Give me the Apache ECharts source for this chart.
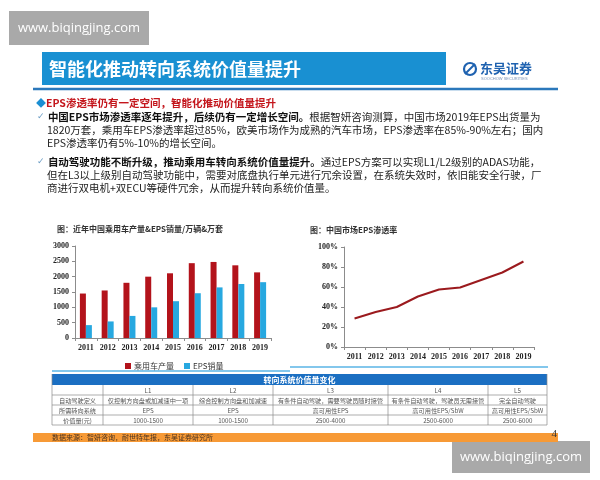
<!DOCTYPE html>
<html><head><meta charset="utf-8">
<script src="https://cdn.jsdelivr.net/npm/echarts@6/dist/echarts.min.js"></script>
<style>html,body{margin:0;padding:0;background:#fff}#c{width:600px;height:480px}</style>
</head><body><div id="c"></div>
<script>
// ---- data ----
const years = ['2011','2012','2013','2014','2015','2016','2017','2018','2019'];
const carProduction = [1450, 1550, 1800, 2000, 2110, 2440, 2480, 2370, 2140];
const epsSales = [420, 540, 720, 1000, 1200, 1460, 1650, 1760, 1820];
const epsPenetration = [28.5, 35, 40, 50.5, 57.5, 59.5, 67, 74.5, 85.5];
const seriesNames = ['乘用车产量', 'EPS销量'];
const tableTitle = '转向系统价值量变化';
const tableHeader = ['', 'L1', 'L2', 'L3', 'L4', 'L5'];
const tableRows = [
  ['自动驾驶定义', '仅控制方向盘或加减速中一项', '综合控制方向盘和加减速', '有条件自动驾驶，需要驾驶员随时接管', '有条件自动驾驶，驾驶员无需接管', '完全自动驾驶'],
  ['所需转向系统', 'EPS', 'EPS', '高可用性EPS', '高可用性EPS/SbW', '高可用性EPS/SbW'],
  ['价值量(元)', '1000-1500', '1000-1500', '2500-4000', '2500-6000', '2500-6000']
];

// ---- layout helpers ----
const CJK = '"Noto Sans CJK SC","Noto Sans",sans-serif';
const SERIF = '"Liberation Serif","Times New Roman",serif';
const g = [];
function rect(x, y, w, h, fill, extra) {
  g.push(Object.assign({type:'rect', shape:{x, y, width:w, height:h}, style:{fill}, silent:true}, extra||{}));
}
function line(x1, y1, x2, y2, stroke, lw) {
  g.push({type:'line', shape:{x1, y1, x2, y2}, style:{stroke, lineWidth:lw}, silent:true});
}
function text(x, y, t, font, fill, align, extra) {
  g.push(Object.assign({type:'text', x, y, style:{text:t, font, fill, textAlign:align||'left', textVerticalAlign:'middle'}, silent:true}, extra||{}));
}
function rich(x, y, t, richStyles) {
  g.push({type:'text', x, y, silent:true, style:{text:t, textVerticalAlign:'middle', rich:richStyles}});
}

// watermarks
rect(9, 11, 140, 34, '#a9a9a9');
text(79, 28, 'www.biqingjing.com', '13px "Open Sans", sans-serif', '#fff', 'center');
rect(452, 441, 138, 32, '#a9a9a9');
text(521, 457, 'www.biqingjing.com', '13px "Open Sans", sans-serif', '#fff', 'center');

// header
rect(42, 52, 404, 33, '#1990d2');
text(49, 69, '智能化推动转向系统价值量提升', 'bold 18px ' + CJK, '#fff');
line(33, 89, 558, 89, '#2b78bb', 2.5);
// logo
g.push({type:'circle', shape:{cx:470, cy:69, r:6}, style:{fill:'none', stroke:'#1f62b0', lineWidth:2.2}, silent:true});
line(465, 74, 475, 64, '#1f62b0', 2);
text(480, 68, '东吴证券', 'bold 13px ' + CJK, '#1f62b0');
text(481, 79, 'SOOCHOW SECURITIES', '4px sans-serif', '#7a93b8');

// body text
const FS = 10.5;
const base = {font: FS + 'px ' + CJK, fill:'#222'};
const bold = {font: 'bold ' + FS + 'px ' + CJK, fill:'#111'};
const red = {font: 'bold ' + FS + 'px ' + CJK, fill:'#c4161c'};
const dia = {font: '10px ' + CJK, fill:'#1a8fd3'};
const chk = {font: '9px "DejaVu Sans", sans-serif', fill:'#6a9cc4'};
rich(36, 103, '{d|◆}{r|EPS渗透率仍有一定空间，智能化推动价值量提升}', {d:dia, r:red});
rich(37, 117, '{c|✓} {b|中国EPS市场渗透率逐年提升，后续仍有一定增长空间。}{n|根据智妍咨询测算，中国市场2019年EPS出货量为}', {c:chk, b:bold, n:base});
rich(47, 130, '{n|1820万套，乘用车EPS渗透率超过85%，欧美市场作为成熟的汽车市场，EPS渗透率在85%-90%左右；国内}', {n:base});
rich(47, 143, '{n|EPS渗透率仍有5%-10%的增长空间。}', {n:base});
rich(37, 162, '{c|✓} {b|自动驾驶功能不断升级，推动乘用车转向系统价值量提升。}{n|通过EPS方案可以实现L1/L2级别的ADAS功能，}', {c:chk, b:bold, n:base});
rich(47, 175, '{n|但在L3以上级别自动驾驶功能中，需要对底盘执行单元进行冗余设置，在系统失效时，依旧能安全行驶，厂}', {n:base});
rich(47, 188, '{n|商进行双电机+双ECU等硬件冗余，从而提升转向系统价值量。}', {n:base});

// chart titles
text(57, 229, '图：近年中国乘用车产量&EPS销量/万辆&万套', 'bold 8px ' + CJK, '#333');
text(310, 230, '图：中国市场EPS渗透率', 'bold 8px ' + CJK, '#333');
// underlines
line(52, 371, 290, 371, '#5ab4e6', 1.5);
line(290, 367, 548, 367, '#5ab4e6', 1.5);

// table
const colX = [52, 103, 193, 273, 388, 488, 547];
const rowY = [374, 385, 395, 405, 415, 425];
rect(colX[0], rowY[0], colX[6] - colX[0], rowY[1] - rowY[0], '#1b6fc2');
text((colX[0] + colX[6]) / 2, (rowY[0] + rowY[1]) / 2, tableTitle, 'bold 8px ' + CJK, '#fff', 'center');
const allRows = [tableHeader].concat(tableRows);
for (let r = 0; r < allRows.length; r++) {
  const y0 = rowY[r + 1], y1 = rowY[r + 2];
  for (let c = 0; c < 6; c++) {
    text((colX[c] + colX[c + 1]) / 2, (y0 + y1) / 2 + 0.5, allRows[r][c], '6.2px ' + CJK, '#555', 'center');
  }
  line(colX[0], y1, colX[6], y1, '#8a8a8a', 0.7);
}
for (let c = 0; c < colX.length; c++) {
  const top = (c === 0 || c === 6) ? rowY[0] : rowY[1];
  line(colX[c], top, colX[c], rowY[5], '#8a8a8a', 0.7);
}

// footer
rect(33, 433, 525, 9, '#f79a36');
text(52, 437.5, '数据来源：智妍咨询，耐世特年报，东吴证券研究所', '7px ' + CJK, '#4a3320');
text(557, 434, '4', '11px ' + SERIF, '#333', 'right');

const axisLbl = {fontFamily: SERIF, fontWeight:'bold', fontSize:8, color:'#222'};
const axLine = {show:true, lineStyle:{color:'#8c8c8c', width:1}};

const chart = echarts.init(document.getElementById('c'));
chart.setOption({
  animation:false,
  backgroundColor:'#fff',
  grid:[
    {left:75, top:246, width:196, height:92},
    {left:344, top:247, width:190, height:100}
  ],
  legend:{
    left:120, top:357, itemWidth:6, itemHeight:6, itemGap:10,
    icon:'rect',
    textStyle:{fontSize:8, fontFamily:CJK, color:'#333', padding:[0,0,0,-2]},
    data:seriesNames
  },
  xAxis:[
    {type:'category', gridIndex:0, data:years, axisLine:axLine, axisTick:{show:true, length:3, lineStyle:{color:'#8c8c8c'}}, axisLabel:Object.assign({margin:6}, axisLbl)},
    {type:'category', gridIndex:1, data:years, axisLine:axLine, axisTick:{show:true, length:3, lineStyle:{color:'#8c8c8c'}}, axisLabel:Object.assign({margin:6}, axisLbl)}
  ],
  yAxis:[
    {type:'value', gridIndex:0, min:0, max:3000, interval:500, axisLine:axLine, axisTick:{show:true, length:3, lineStyle:{color:'#8c8c8c'}}, splitLine:{show:false}, axisLabel:Object.assign({margin:6, formatter:function(v){return String(v);}}, axisLbl)},
    {type:'value', gridIndex:1, min:0, max:100, interval:20, axisLine:axLine, axisTick:{show:true, length:3, lineStyle:{color:'#8c8c8c'}}, splitLine:{show:false}, axisLabel:Object.assign({margin:6, formatter:'{value}%'}, axisLbl)}
  ],
  series:[
    {name:seriesNames[0], type:'bar', xAxisIndex:0, yAxisIndex:0, data:carProduction, barWidth:6, barGap:'0%', itemStyle:{color:'#b3131b'}},
    {name:seriesNames[1], type:'bar', xAxisIndex:0, yAxisIndex:0, data:epsSales, barWidth:6, barGap:'0%', itemStyle:{color:'#27a8e0'}},
    {name:'EPS渗透率', type:'line', xAxisIndex:1, yAxisIndex:1, data:epsPenetration, symbol:'none', lineStyle:{color:'#9b1a1e', width:2}}
  ],
  graphic:g
});
</script></body></html>
